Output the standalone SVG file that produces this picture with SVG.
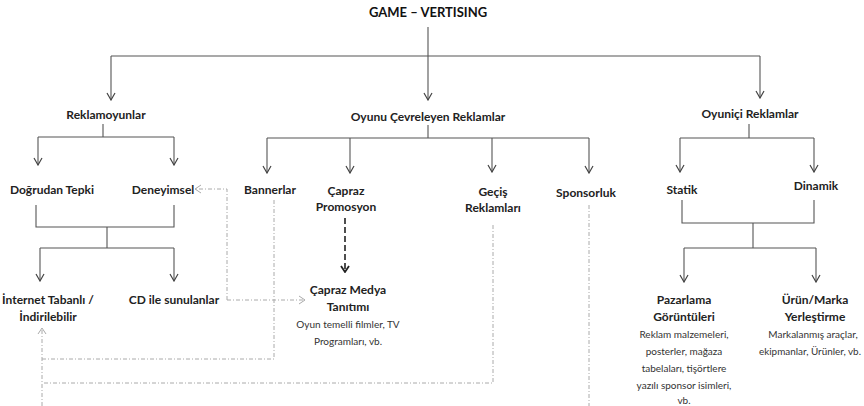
<svg xmlns="http://www.w3.org/2000/svg" width="864" height="406" viewBox="0 0 864 406">
<style>
.t{font-family:Lato,"Liberation Sans",sans-serif;font-weight:bold;font-size:12px;fill:#222;text-anchor:middle}
.tt{font-size:13px;fill:#111}
.s{font-family:Lato,"Liberation Sans",sans-serif;font-size:10px;fill:#333;text-anchor:middle}
.l{fill:none;stroke:#555;stroke-width:1.1}
.d{fill:none;stroke:#aaa;stroke-width:1;stroke-dasharray:4 2 1 2}
.bd{fill:none;stroke:#222;stroke-width:1.6;stroke-dasharray:6 3}
</style>
<defs>
<marker id="a" markerWidth="10" markerHeight="10" refX="9" refY="5" orient="auto" markerUnits="userSpaceOnUse" viewBox="0 0 10 10">
<polyline points="2,1 9,5 2,9" fill="none" stroke="#444" stroke-width="1.2"/>
</marker>
<marker id="ad" markerWidth="10" markerHeight="10" refX="9" refY="5" orient="auto" markerUnits="userSpaceOnUse" viewBox="0 0 10 10">
<polyline points="3,1 9,5 3,9" fill="none" stroke="#aaa" stroke-width="1"/>
</marker>
<marker id="ab" markerWidth="10" markerHeight="10" refX="9" refY="5" orient="auto" markerUnits="userSpaceOnUse" viewBox="0 0 10 10">
<polyline points="3,1 9,5 3,9" fill="none" stroke="#222" stroke-width="1.8"/>
</marker>
</defs>
<g id="connectors">
<path class="l" d="M428 27V100" marker-end="url(#a)"/>
<path class="l" d="M111 56H760"/>
<path class="l" d="M111 56V100" marker-end="url(#a)"/>
<path class="l" d="M760 56V98" marker-end="url(#a)"/>
<path class="l" d="M103 124V137M38 137H174"/>
<path class="l" d="M38 137V165" marker-end="url(#a)"/>
<path class="l" d="M174 137V165" marker-end="url(#a)"/>
<path class="l" d="M36 205V227H174V205M107 227V248M40 248H174"/>
<path class="l" d="M40 248V281" marker-end="url(#a)"/>
<path class="l" d="M174 248V281" marker-end="url(#a)"/>
<path class="l" d="M428 125V138M267 138H589"/>
<path class="l" d="M267 138V173" marker-end="url(#a)" stroke-width="1.5"/>
<path class="l" d="M350 138V173" marker-end="url(#a)" stroke-width="1.5"/>
<path class="l" d="M492 138V172" marker-end="url(#a)"/>
<path class="l" d="M589 138V173" marker-end="url(#a)"/>
<path class="l" d="M749 124V138M680 138H814"/>
<path class="l" d="M680 138V172" marker-end="url(#a)"/>
<path class="l" d="M814 138V172" marker-end="url(#a)"/>
<path class="l" d="M682 200V223H814V200M753 223V248M684 248H816"/>
<path class="l" d="M684 248V282" marker-end="url(#a)"/>
<path class="l" d="M816 248V282" marker-end="url(#a)"/>
<path class="bd" d="M345 218V272" marker-end="url(#ab)"/>
<path class="d" d="M227 300V189H195" marker-end="url(#ad)"/>
<path class="d" d="M227 300H305" marker-end="url(#ad)"/>
<path class="d" d="M274 200V359H42"/>
<path class="d" d="M493 225V383H42"/>
<path class="d" d="M42 406V328" marker-end="url(#ad)"/>
<path class="d" d="M589 205V406"/>
</g>
<g id="title"><text class="t tt" x="428" y="17">GAME – VERTISING</text></g>
<g id="reklamoyunlar"><text class="t" x="106" y="119">Reklamoyunlar</text></g>
<g id="oyunu-cevreleyen"><text class="t" x="428" y="121">Oyunu Çevreleyen Reklamlar</text></g>
<g id="oyunici"><text class="t" x="750" y="118">Oyuniçi Reklamlar</text></g>
<g id="dogrudan"><text class="t" x="52" y="194">Doğrudan Tepki</text></g>
<g id="deneyimsel"><text class="t" x="163" y="194">Deneyimsel</text></g>
<g id="internet"><text class="t" x="48" y="304">İnternet Tabanlı /</text><text class="t" x="48" y="321">İndirilebilir</text></g>
<g id="cd"><text class="t" x="174" y="304">CD ile sunulanlar</text></g>
<g id="bannerlar"><text class="t" x="270" y="194">Bannerlar</text></g>
<g id="capraz-promosyon"><text class="t" x="346" y="195">Çapraz</text><text class="t" x="346" y="211">Promosyon</text></g>
<g id="gecis"><text class="t" x="493" y="196">Geçiş</text><text class="t" x="493" y="212">Reklamları</text></g>
<g id="sponsorluk"><text class="t" x="586" y="197">Sponsorluk</text></g>
<g id="capraz-medya"><text class="t" x="348" y="294">Çapraz Medya</text><text class="t" x="348" y="311">Tanıtımı</text>
<text class="s" x="348" y="328">Oyun temelli filmler, TV</text><text class="s" x="348" y="345">Programları, vb.</text></g>
<g id="statik"><text class="t" x="682" y="194">Statik</text></g>
<g id="dinamik"><text class="t" x="816" y="190">Dinamik</text></g>
<g id="pazarlama"><text class="t" x="684" y="304">Pazarlama</text><text class="t" x="684" y="321">Görüntüleri</text>
<text class="s" x="684" y="338">Reklam malzemeleri,</text><text class="s" x="684" y="355">posterler, mağaza</text><text class="s" x="684" y="372">tabelaları, tişörtlere</text><text class="s" x="684" y="389">yazılı sponsor isimleri,</text><text class="s" x="684" y="404">vb.</text></g>
<g id="urun"><text class="t" x="815" y="304">Ürün/Marka</text><text class="t" x="815" y="321">Yerleştirme</text>
<text class="s" x="813" y="338">Markalanmış araçlar,</text><text class="s" x="810" y="355" textLength="102" lengthAdjust="spacingAndGlyphs">ekipmanlar, Ürünler, vb.</text></g>
</svg>
